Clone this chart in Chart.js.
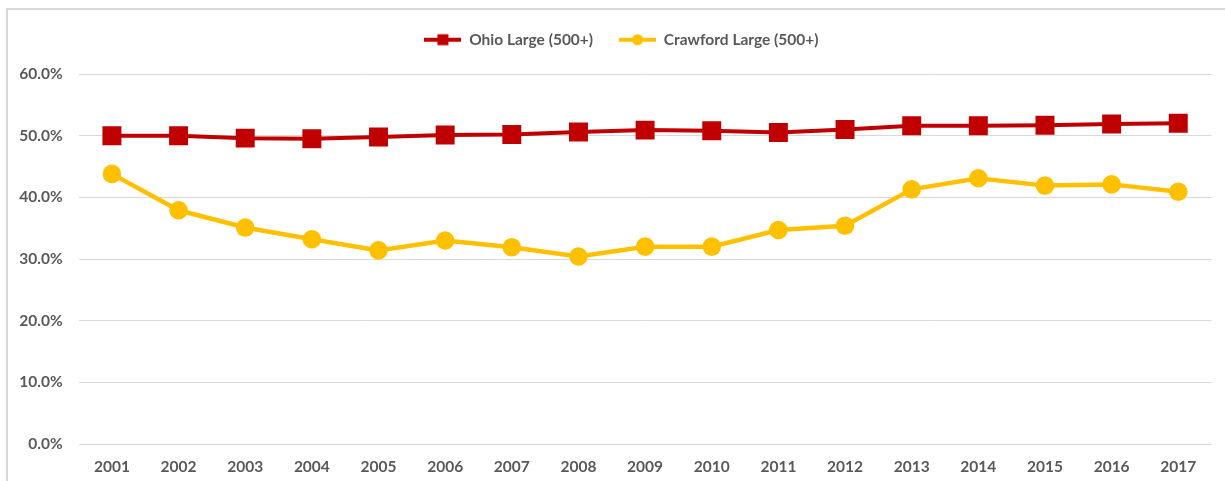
<!DOCTYPE html>
<html>
<head>
<meta charset="utf-8">
<script src="https://cdn.jsdelivr.net/npm/chart.js@4/dist/chart.umd.min.js"></script>
<style>
  html, body { margin: 0; padding: 0; background: #fff; overflow: hidden; }
  #frame { position: absolute; left: 6px; top: 8px; width: 1400px; height: 700px; border: 2px solid #d9d9d9; box-sizing: border-box; }
  #wrap { position: absolute; left: 0; top: 0; width: 1225px; height: 481px; }
</style>
</head>
<body>
<div id="frame"></div>
<div id="wrap"><canvas id="c" width="1225" height="481"></canvas></div>
<script>
const years = ['2001','2002','2003','2004','2005','2006','2007','2008','2009','2010','2011','2012','2013','2014','2015','2016','2017'];
const ohioLarge = [50.0, 50.0, 49.6, 49.5, 49.8, 50.1, 50.2, 50.6, 50.9, 50.8, 50.5, 51.0, 51.6, 51.6, 51.7, 51.9, 52.0];
const crawfordLarge = [43.8, 37.9, 35.1, 33.2, 31.4, 33.0, 31.9, 30.4, 32.0, 32.0, 34.7, 35.4, 41.3, 43.1, 41.9, 42.1, 40.9];
const seriesNames = ['Ohio Large (500+)', 'Crawford Large (500+)'];
const yTicks = [0, 10, 20, 30, 40, 50, 60];

const RED = '#C00000';
const GOLD = '#FFC000';
const FONT = 'Lato, "Open Sans", sans-serif';
const FS = 15.5;

function legendIcon(color, shape) {
  const cv = document.createElement('canvas');
  cv.width = 37; cv.height = 14;
  const g = cv.getContext('2d');
  g.strokeStyle = color; g.lineWidth = 4;
  g.beginPath(); g.moveTo(0, 7); g.lineTo(37, 7); g.stroke();
  g.fillStyle = color;
  if (shape === 'rect') { g.fillRect(13, 1.5, 11, 11); }
  else { g.beginPath(); g.arc(18.5, 7, 5.5, 0, Math.PI * 2); g.fill(); }
  return cv;
}
const icons = [legendIcon(RED, 'rect'), legendIcon(GOLD, 'circle')];

const legendTweak = {
  id: 'legendTweak',
  beforeInit(chart) {
    const lg = chart.legend;
    const origFit = lg.fit;
    lg.fit = function () { origFit.call(this); this.height = 68; };
    const origDraw = lg.draw;
    lg.draw = function () {
      const ctx = this.ctx;
      ctx.save(); ctx.translate(15, 0);
      origDraw.call(this);
      ctx.restore();
    };
  }
};

new Chart(document.getElementById('c'), {
  type: 'line',
  data: {
    labels: years,
    datasets: [
      { label: seriesNames[0], data: ohioLarge, borderColor: RED, backgroundColor: RED,
        borderWidth: 4, pointStyle: 'rect', pointRadius: 13.4, pointHoverRadius: 13.4,
        pointBorderWidth: 0, tension: 0 },
      { label: seriesNames[1], data: crawfordLarge, borderColor: GOLD, backgroundColor: GOLD,
        borderWidth: 4.5, pointStyle: 'circle', pointRadius: 9.3, pointHoverRadius: 9.3,
        pointBorderWidth: 0, tension: 0 }
    ]
  },
  options: {
    responsive: false,
    animation: false,
    events: [],
    layout: { padding: { left: 0, right: 12, top: 6, bottom: 7 } },
    plugins: {
      tooltip: { enabled: false },
      legend: {
        position: 'top',
        labels: {
          usePointStyle: true,
          pointStyleWidth: 37,
          padding: 26,
          color: '#595959',
          font: { family: FONT, size: FS, weight: 'bold' },
          generateLabels(chart) {
            return chart.data.datasets.map((ds, i) => ({
              text: ds.label, pointStyle: icons[i], fillStyle: ds.borderColor,
              strokeStyle: ds.borderColor, lineWidth: 0, hidden: false, datasetIndex: i,
              fontColor: '#595959'
            }));
          }
        }
      }
    },
    scales: {
      x: {
        offset: true,
        afterFit(scale) { scale.height = 30; },
        grid: { display: false, drawTicks: false },
        border: { display: false },
        ticks: { color: '#595959', padding: 14, font: { family: FONT, size: FS, weight: 'bold' }, maxRotation: 0 }
      },
      y: {
        min: 0, max: 60,
        afterFit(scale) { scale.width = 78.6; },
        afterBuildTicks(scale) { scale.ticks = yTicks.map(v => ({ value: v })); },
        grid: { color: '#d9d9d9', lineWidth: 1, drawTicks: false },
        border: { display: false },
        ticks: { color: '#595959', padding: 16, font: { family: FONT, size: FS, weight: 'bold' },
                 callback: v => v.toFixed(1) + '%' }
      }
    }
  },
  plugins: [legendTweak]
});
</script>
</body>
</html>
